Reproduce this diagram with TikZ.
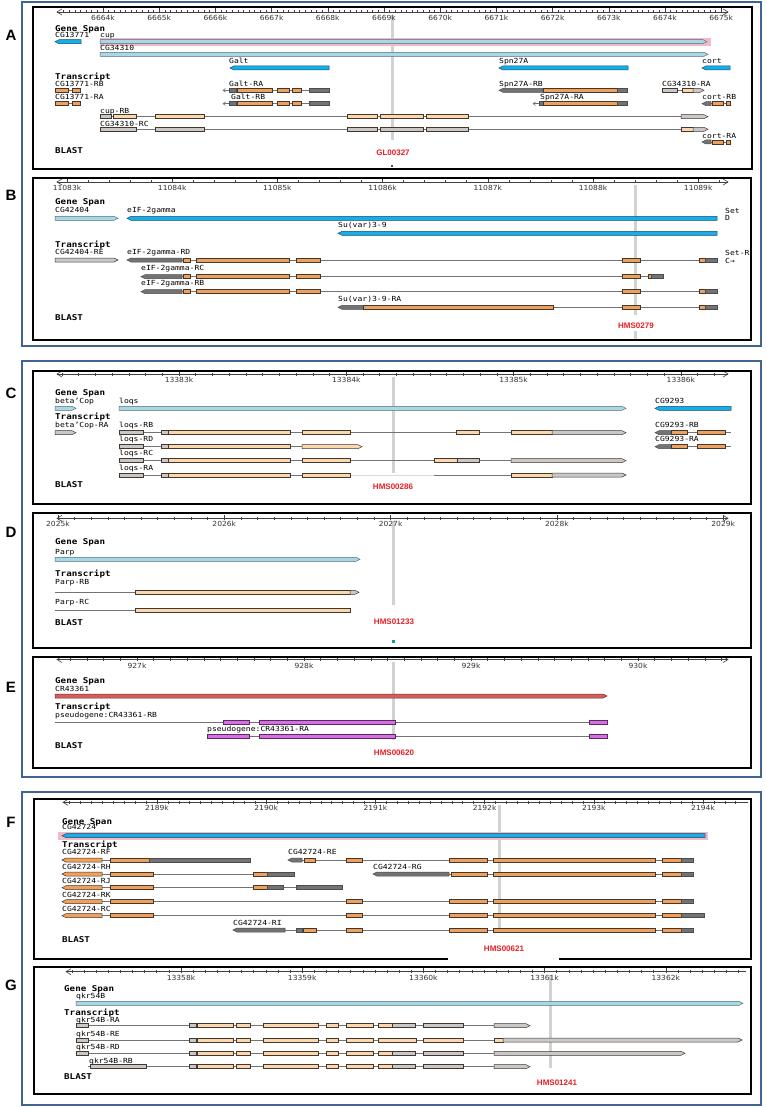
\documentclass[tikz,border=0pt]{standalone}
\usepackage{fontspec}
\newfontfamily\gbmono[FakeStretch=1.15]{DejaVu Sans Mono}
\newfontfamily\gbsans[FakeStretch=1.08]{DejaVu Sans}
\newfontfamily\gbarial{Liberation Sans}
\definecolor{fblue}{RGB}{65,100,150}
\definecolor{bbfill}{RGB}{20,175,230}
\definecolor{bbdraw}{RGB}{25,75,110}
\definecolor{lbfill}{RGB}{170,215,230}
\definecolor{lbdraw}{RGB}{80,110,125}
\definecolor{orfill}{RGB}{238,160,95}
\definecolor{exdraw}{RGB}{70,55,45}
\definecolor{tnfill}{RGB}{250,215,175}
\definecolor{gyfill}{RGB}{200,200,200}
\definecolor{dgfill}{RGB}{115,115,115}
\definecolor{pinkhl}{RGB}{245,185,198}
\definecolor{rsfill}{RGB}{210,95,95}
\definecolor{rsdraw}{RGB}{120,40,40}
\definecolor{mgfill}{RGB}{215,110,225}
\definecolor{mgdraw}{RGB}{90,40,100}
\definecolor{redlbl}{RGB}{235,30,35}
\definecolor{mkgrey}{RGB}{210,210,210}
\definecolor{introncol}{RGB}{115,115,115}
\definecolor{tealsq}{RGB}{30,150,160}
\tikzset{
  frameblue/.style={draw=fblue, line width=1.3pt},
  frameblack/.style={draw=black, line width=1.7pt},
  intron/.style={draw=introncol, line width=0.75pt},
  faintintron/.style={draw=black!15, line width=0.75pt},
  rulerline/.style={draw=black!75, line width=0.6pt},
  orx/.style={fill=orfill, draw=exdraw, line width=0.5pt},
  tnx/.style={fill=tnfill, draw=exdraw, line width=0.5pt},
  gyx/.style={fill=gyfill, draw=exdraw, line width=0.5pt},
  dgx/.style={fill=dgfill, draw=black!70, line width=0.5pt},
  bbx/.style={fill=bbfill, draw=bbdraw, line width=0.5pt},
  lbx/.style={fill=lbfill, draw=lbdraw, line width=0.5pt},
  rsx/.style={fill=rsfill, draw=rsdraw, line width=0.5pt},
  mgx/.style={fill=mgfill, draw=mgdraw, line width=0.5pt},
  marker/.style={draw=mkgrey, line width=3pt},
  lab/.style={anchor=west, inner sep=0pt, text height=5pt, text depth=0pt, font=\gbmono\fontsize{7}{8}\selectfont},
  hdr/.style={anchor=west, inner sep=0pt, text height=5.5pt, text depth=0pt, font=\gbmono\bfseries\fontsize{8}{9}\selectfont},
  rlab/.style={inner sep=0pt, text height=5pt, text depth=0pt, font=\gbsans\fontsize{7}{8}\selectfont, text=black!80},
  redlab/.style={inner sep=0pt, text height=5.5pt, text depth=0pt, font=\gbarial\bfseries\fontsize{8}{9}\selectfont, text=redlbl},
  plet/.style={inner sep=0pt, font=\gbarial\bfseries\fontsize{15}{16}\selectfont},
}
\newcommand\GBox[4]{\filldraw[#1] (#2,#4-2) rectangle (#3,#4+2);}
\newcommand\GArr[4]{\filldraw[#1] (#2,#4-2) -- (#3-4,#4-2) -- (#3,#4) -- (#3-4,#4+2) -- (#2,#4+2) -- cycle;}
\newcommand\GArl[4]{\filldraw[#1] (#2,#4) -- (#2+4,#4-2) -- (#3,#4-2) -- (#3,#4+2) -- (#2+4,#4+2) -- cycle;}
\newcommand\GIn[3]{\draw[intron] (#1,#3) -- (#2,#3);}
\newcommand\GTip[3]{\draw[intron] (#1,#3) -- (#2,#3); \draw[intron, line width=0.6pt] (#2+2.5,#3-1.8) -- (#2,#3) -- (#2+2.5,#3+1.8);}
\newcommand\GRul[8]{%
  \draw[rulerline] (#1,#3) -- (#2,#3);
  \foreach \i in {#7,...,#8}{\draw[rulerline] ({#4+\i*#5/#6},{#3-1.5}) -- ({#4+\i*#5/#6},{#3+1.5});}}
\newcommand\GMaj[5]{%
  \foreach \j [evaluate=\j as \mlab using {int(#5+\j)}] in {0,...,#3}{%
    \draw[rulerline] ({#1+\j*#2},{#4-3.5}) -- ({#1+\j*#2},{#4+1.5});
    \node[rlab] at ({#1+\j*#2},{#4+6}) {\mlab k};}}
\newcommand\GChl[2]{\draw[rulerline] (#1+5,#2-3) -- (#1,#2) -- (#1+5,#2+3);}
\newcommand\GChr[2]{\draw[rulerline] (#1-5,#2-3) -- (#1,#2) -- (#1-5,#2+3);}
\begin{document}
\begin{tikzpicture}[x=1pt,y=-1pt]
\useasboundingbox (0,0) rectangle (767,1107);
\fill[white] (0,0) rectangle (767,1107);
% outer frames
\draw[frameblue] (22,2) rectangle (761,346);
\draw[frameblue] (22,361) rectangle (761,777);
\draw[frameblue] (22,792) rectangle (761,1105);
% panel letters
\node[plet] (LA) at (11,35) {A};
\node[plet] (LB) at (11,195) {B};
\node[plet] (LC) at (11,393) {C};
\node[plet] (LD) at (11,532) {D};
\node[plet] (LE) at (11,687) {E};
\node[plet] (LF) at (11,822) {F};
\node[plet] (LG) at (11,985) {G};

%%%%%%%%%%%%%%%% PANEL A
\draw[marker] (392,15) -- (392,140);
\fill[black!70] (391,165) rectangle (393.2,167.2);
\GRul{57}{728}{12}{103}{56.2}{10}{-7}{110}
\GMaj{103}{56.2}{11}{12}{6664}
\GChl{57}{12}\GChr{728}{12}
\node[hdr] at (55,29) {Gene Span};
\node[lab] at (55,35) {CG13771};
\GArl{bbx}{55}{81}{41.7}
\fill[pinkhl] (100,37.8) rectangle (711,45.6);
\node[lab] at (100,35) {cup};
\GArr{lbx}{100}{707}{41.7}
\node[lab] at (100,48) {CG34310};
\GArr{lbx}{100}{708}{54.3}
\node[lab] at (229,61) {Galt};
\GArl{bbx}{230}{329}{68}
\node[lab] at (499,61) {Spn27A};
\GArl{bbx}{499}{628}{68}
\node[lab] at (702,61) {cort};
\GArl{bbx}{702}{730}{68}
\node[hdr] at (55,77) {Transcript};
\foreach \yy in {90.3,103.7}{
  \GIn{68}{72}{\yy}\GBox{orx}{55}{68}{\yy}\GBox{orx}{72}{80}{\yy}
  \GIn{236}{309}{\yy}\GTip{229}{223}{\yy}
  \GBox{dgx}{229}{236}{\yy}\GBox{orx}{237}{272}{\yy}\GBox{orx}{277}{289}{\yy}\GBox{orx}{292}{301}{\yy}\GBox{dgx}{309}{329}{\yy}
}
\node[lab] at (55,84) {CG13771-RB};
\node[lab] at (55,97) {CG13771-RA};
\node[lab] at (229,84) {Galt-RA};
\node[lab] at (231,97) {Galt-RB};
\node[lab] at (499,84) {Spn27A-RB};
\GArl{dgx}{499}{543}{90.3}\GBox{orx}{543}{617}{90.3}\GBox{dgx}{617}{627}{90.3}
\node[lab] at (540,97) {Spn27A-RA};
\GTip{539}{533}{103.7}
\GBox{dgx}{539}{543}{103.7}\GBox{orx}{543}{617}{103.7}\GBox{dgx}{617}{627}{103.7}
\node[lab] at (662,84) {CG34310-RA};
\GIn{677}{682}{90.3}\GBox{gyx}{662}{677}{90.3}\GBox{tnx}{682}{693}{90.3}\GArr{gyx}{693}{704}{90.3}
\node[lab] at (702,97) {cort-RB};
\node[lab] at (702,136) {cort-RA};
\foreach \yy in {103.7,142}{
  \GIn{711}{730}{\yy}\GArl{dgx}{702}{711}{\yy}\GBox{orx}{712}{723}{\yy}\GBox{orx}{726}{730}{\yy}}
\node[lab] at (100,111) {cup-RB};
\GIn{100}{681}{116.7}
\GBox{gyx}{100}{111}{116.7}\GBox{tnx}{113}{136}{116.7}\GBox{tnx}{155}{204}{116.7}
\GBox{tnx}{347}{377}{116.7}\GBox{tnx}{380}{423}{116.7}\GBox{tnx}{426}{468}{116.7}
\GArr{gyx}{681}{708}{116.7}
\node[lab] at (100,124) {CG34310-RC};
\GIn{100}{681}{129.3}
\GBox{gyx}{100}{136}{129.3}\GBox{gyx}{155}{204}{129.3}
\GBox{gyx}{347}{377}{129.3}\GBox{gyx}{380}{423}{129.3}\GBox{gyx}{426}{468}{129.3}
\GBox{tnx}{681}{693}{129.3}\GArr{gyx}{693}{708}{129.3}
\node[hdr] at (55,151) {BLAST};
\node[redlab] at (393,153) {GL00327};
\draw[frameblack] (33,7) rectangle (752,169);

%%%%%%%%%%%%%%%% PANEL B
\draw[marker] (635,185) -- (635,315);
\draw[marker] (635,331) -- (635,339);
\GRul{57}{728}{182}{67}{105.2}{5}{0}{31}
\GMaj{67}{105.2}{6}{182}{11083}
\GChl{57}{182}\GChr{728}{182}
\node[hdr] at (55,202) {Gene Span};
\node[lab] at (55,210) {CG42404};
\GArr{lbx}{55}{118}{218.3}
\node[lab] at (127,210) {eIF-2gamma};
\GArl{bbx}{127}{717}{218.3}
\node[lab] at (725,211) {Set};
\node[lab] at (725,218.5) {D};
\node[lab] at (338,225) {Su(var)3-9};
\GArl{bbx}{338}{717}{233.3}
\node[hdr] at (55,245) {Transcript};
\node[lab] at (55,252) {CG42404-RE};
\GArr{gyx}{55}{118}{260}
\node[lab] at (127,252) {eIF-2gamma-RD};
\node[lab] at (725,253) {Set-R};
\node[lab] at (725,261) {C→};
\GIn{182}{699}{260}
\GArl{dgx}{127}{182}{260}\GBox{orx}{183}{190}{260}\GBox{orx}{196}{289}{260}\GBox{orx}{296}{320}{260}
\GBox{orx}{622}{640}{260}\GBox{orx}{699}{705}{260}\GBox{dgx}{705}{717}{260}
\node[lab] at (141,268) {eIF-2gamma-RC};
\GIn{182}{648}{276.7}
\GArl{dgx}{141}{182}{276.7}\GBox{orx}{183}{190}{276.7}\GBox{orx}{196}{289}{276.7}\GBox{orx}{296}{320}{276.7}
\GBox{orx}{622}{640}{276.7}\GBox{orx}{648}{651}{276.7}\GBox{dgx}{651}{663}{276.7}
\node[lab] at (141,283) {eIF-2gamma-RB};
\GIn{182}{699}{291.7}
\GArl{dgx}{141}{182}{291.7}\GBox{orx}{183}{190}{291.7}\GBox{orx}{196}{289}{291.7}\GBox{orx}{296}{320}{291.7}
\GBox{orx}{622}{640}{291.7}\GBox{orx}{699}{705}{291.7}\GBox{dgx}{705}{717}{291.7}
\node[lab] at (338,299) {Su(var)3-9-RA};
\GIn{553}{699}{307.3}
\GArl{dgx}{338}{363}{307.3}\GBox{orx}{363}{553}{307.3}
\GBox{orx}{622}{640}{307.3}\GBox{orx}{699}{705}{307.3}\GBox{dgx}{705}{717}{307.3}
\node[hdr] at (55,318) {BLAST};
\node[redlab] at (636,326) {HMS0279};
\draw[frameblack] (33,178) rectangle (751,340);

%%%%%%%%%%%%%%%% PANEL C
\draw[marker] (393,377) -- (393,473);
\GRul{57}{728}{374}{179}{167.3}{10}{-7}{32}
\GMaj{179}{167.3}{3}{374}{13383}
\GChl{57}{374}\GChr{728}{374}
\node[hdr] at (55,393) {Gene Span};
\node[lab] at (55,401) {beta’Cop};
\GArr{lbx}{55}{76}{408.3}
\node[lab] at (119,401) {loqs};
\GArr{lbx}{119}{626}{408.3}
\node[lab] at (655,401) {CG9293};
\GArl{bbx}{655}{731}{408.3}
\node[hdr] at (55,417) {Transcript};
\node[lab] at (55,425) {beta’Cop-RA};
\GArr{gyx}{55}{76}{432.7}
\node[lab] at (119,425) {loqs-RB};
\GIn{143}{552}{432.7}
\GBox{gyx}{119}{143}{432.7}\GBox{gyx}{161}{168}{432.7}\GBox{tnx}{168}{290}{432.7}\GBox{tnx}{302}{350}{432.7}
\GBox{tnx}{456}{479}{432.7}\GBox{tnx}{511}{552}{432.7}\GArr{gyx}{552}{626}{432.7}
\node[lab] at (655,425) {CG9293-RB};
\node[lab] at (655,439) {CG9293-RA};
\foreach \yy in {432.7,446.7}{
  \GIn{671}{731}{\yy}\GArl{dgx}{655}{671}{\yy}\GBox{orx}{671}{687}{\yy}\GBox{orx}{697}{725}{\yy}}
\node[lab] at (119,439) {loqs-RD};
\GIn{143}{302}{446.7}
\GBox{gyx}{119}{143}{446.7}\GBox{gyx}{161}{168}{446.7}\GBox{tnx}{168}{290}{446.7}\GArr{tnx}{302}{362}{446.7}
\node[lab] at (119,453) {loqs-RC};
\GIn{143}{511}{460.7}
\GBox{gyx}{119}{143}{460.7}\GBox{gyx}{161}{168}{460.7}\GBox{tnx}{168}{290}{460.7}\GBox{tnx}{302}{350}{460.7}
\GBox{tnx}{434}{457}{460.7}\GBox{gyx}{457}{479}{460.7}\GArr{gyx}{511}{626}{460.7}
\node[lab] at (119,467.7) {loqs-RA};
\GIn{143}{350}{475}\draw[faintintron] (350,475) -- (434,475);\GIn{434}{511}{475}
\GBox{gyx}{119}{143}{475}\GBox{gyx}{161}{168}{475}\GBox{tnx}{168}{290}{475}\GBox{tnx}{302}{350}{475}
\GBox{tnx}{511}{552}{475}\GArr{gyx}{552}{626}{475}
\node[hdr] at (55,485) {BLAST};
\node[redlab] at (393,486.7) {HMS00286};
\draw[frameblack] (33,371) rectangle (751,504);

%%%%%%%%%%%%%%%% PANEL D
\draw[marker] (393,521) -- (393,605);
\fill[tealsq] (391.5,640) rectangle (394.5,643);
\GRul{57}{728}{518.3}{58}{166.3}{10}{0}{40}
\GMaj{58}{166.3}{4}{518.3}{2025}
\GChl{57}{518.3}\GChr{728}{518.3}
\node[hdr] at (55,541.7) {Gene Span};
\node[lab] at (55,551.7) {Parp};
\GArr{lbx}{55}{360}{559.3}
\node[hdr] at (55,574) {Transcript};
\node[lab] at (55,582.3) {Parp-RB};
\GIn{55}{135}{592.3}\GBox{tnx}{135}{350}{592.3}\GArr{gyx}{350}{359}{592.3}
\node[lab] at (55,602.3) {Parp-RC};
\GIn{55}{135}{610}\GBox{tnx}{135}{350}{610}
\node[hdr] at (55,622.3) {BLAST};
\node[redlab] at (394,621.7) {HMS01233};
\draw[frameblack] (33,513) rectangle (751,648);

%%%%%%%%%%%%%%%% PANEL E
\draw[marker] (393,662) -- (393,740);
\GRul{57}{728}{659.5}{137}{167}{10}{-4}{35}
\GMaj{137}{167}{3}{659.5}{927}
\GChl{57}{659.5}\GChr{728}{659.5}
\node[hdr] at (55,681) {Gene Span};
\node[lab] at (55,689) {CR43361};
\GArr{rsx}{55}{607}{696}
\node[hdr] at (55,706.7) {Transcript};
\node[lab] at (55,715) {pseudogene:CR43361-RB};
\GIn{55}{589}{722.3}
\GBox{mgx}{223}{249}{722.3}\GBox{mgx}{259}{395}{722.3}\GBox{mgx}{589}{607}{722.3}
\node[lab] at (207,729.3) {pseudogene:CR43361-RA};
\GIn{249}{589}{736}
\GBox{mgx}{207}{249}{736}\GBox{mgx}{259}{395}{736}\GBox{mgx}{589}{607}{736}
\node[hdr] at (55,745.7) {BLAST};
\node[redlab] at (394,753) {HMS00620};
\draw[frameblack] (33,657) rectangle (751,768);

%%%%%%%%%%%%%%%% PANEL F
\draw[marker] (499,805) -- (499,933);
\GRul{63}{748}{802.3}{157}{109.2}{10}{-8}{53}
\GMaj{157}{109.2}{5}{802.3}{2189}
\GChl{63}{802.3}
\node[hdr] at (62,821.7) {Gene Span};
\node[lab] at (62,827.3) {CG42724};
\fill[pinkhl] (58,831.8) rectangle (708,839.6);
\GArl{bbx}{62}{705}{835.7}
\node[hdr] at (62,845) {Transcript};
\node[lab] at (62,852.3) {CG42724-RF};
\node[lab] at (288,852.3) {CG42724-RE};
\GIn{102}{110}{860}\GIn{302}{662}{860}
\GArl{orx}{62}{102}{860}\GBox{orx}{110}{149}{860}\GBox{dgx}{149}{250}{860}
\GArl{dgx}{288}{302}{860}\GBox{orx}{304}{315}{860}\GBox{orx}{346}{362}{860}
\GBox{orx}{449}{487}{860}\GBox{orx}{493}{655}{860}\GBox{orx}{662}{681}{860}\GBox{dgx}{681}{693}{860}
\node[lab] at (62,866.7) {CG42724-RH};
\node[lab] at (373,866.7) {CG42724-RG};
\GIn{102}{253}{874}\GIn{449}{662}{874}
\GArl{orx}{62}{102}{874}\GBox{orx}{110}{153}{874}\GBox{orx}{253}{267}{874}\GBox{dgx}{267}{294}{874}
\GArl{dgx}{373}{449}{874}\GBox{orx}{451}{487}{874}\GBox{orx}{493}{655}{874}\GBox{orx}{662}{681}{874}\GBox{dgx}{681}{693}{874}
\node[lab] at (62,881) {CG42724-RJ};
\GIn{102}{296}{887.7}
\GArl{orx}{62}{102}{887.7}\GBox{orx}{110}{153}{887.7}\GBox{orx}{253}{267}{887.7}\GBox{dgx}{267}{283}{887.7}\GBox{dgx}{296}{342}{887.7}
\node[lab] at (62,895) {CG42724-RK};
\GIn{102}{662}{901.7}
\GArl{orx}{62}{102}{901.7}\GBox{orx}{110}{153}{901.7}\GBox{orx}{346}{362}{901.7}
\GBox{orx}{449}{487}{901.7}\GBox{orx}{493}{655}{901.7}\GBox{orx}{662}{681}{901.7}\GBox{dgx}{681}{693}{901.7}
\node[lab] at (62,909.3) {CG42724-RC};
\GIn{102}{662}{915.7}
\GArl{orx}{62}{102}{915.7}\GBox{orx}{110}{153}{915.7}\GBox{orx}{346}{362}{915.7}
\GBox{orx}{449}{487}{915.7}\GBox{orx}{493}{655}{915.7}\GBox{orx}{662}{681}{915.7}\GBox{dgx}{681}{704}{915.7}
\node[lab] at (233,923.3) {CG42724-RI};
\GIn{285}{662}{930}
\GArl{dgx}{233}{285}{930}\GBox{dgx}{296}{302}{930}\GBox{orx}{303}{316}{930}\GBox{orx}{346}{362}{930}
\GBox{orx}{449}{487}{930}\GBox{orx}{493}{655}{930}\GBox{orx}{662}{681}{930}\GBox{dgx}{681}{693}{930}
\node[hdr] at (62,939.3) {BLAST};
\node[redlab] at (504,948.3) {HMS00621};
\draw[frameblack] (34,799) rectangle (751,959);
\draw[white, line width=2pt] (448,959) -- (559,959);

%%%%%%%%%%%%%%%% PANEL G
\draw[marker] (550,975) -- (550,1068);
\GRul{66}{746}{971.7}{181}{121.2}{10}{-9}{46}
\GMaj{181}{121.2}{4}{971.7}{13358}
\GChl{66}{971.7}
\node[hdr] at (64,988.5) {Gene Span};
\node[lab] at (76,995.5) {qkr54B};
\GArr{lbx}{76}{743}{1003.3}
\node[hdr] at (64,1012.3) {Transcript};
\node[lab] at (76,1020) {qkr54B-RA};
\node[lab] at (76,1034) {qkr54B-RE};
\node[lab] at (76,1047) {qkr54B-RD};
\node[lab] at (89,1060.7) {qkr54B-RB};
\foreach \yy in {1025.7,1040,1053.3,1066.7}{
  \GIn{88}{494}{\yy}
  \GBox{gyx}{189}{196}{\yy}\GBox{tnx}{197}{233}{\yy}\GBox{tnx}{236}{250}{\yy}\GBox{tnx}{263}{318}{\yy}
  \GBox{tnx}{326}{338}{\yy}\GBox{tnx}{346}{373}{\yy}}
\foreach \yy in {1025.7,1053.3}{\GBox{gyx}{76}{88}{\yy}}
\foreach \yy in {1025.7,1053.3,1066.7}{
  \GBox{tnx}{378}{392}{\yy}\GBox{gyx}{392}{415}{\yy}\GBox{gyx}{423}{463}{\yy}}
\GArr{gyx}{494}{530}{1025.7}
\GBox{gyx}{76}{88}{1040}
\GBox{tnx}{378}{416}{1040}\GBox{tnx}{423}{463}{1040}\GBox{tnx}{494}{503}{1040}\GArr{gyx}{503}{742}{1040}
\GArr{gyx}{494}{685}{1053.3}
\GBox{gyx}{90}{146}{1066.7}\GArr{gyx}{494}{530}{1066.7}
\node[hdr] at (64,1076.7) {BLAST};
\node[redlab] at (557,1082.7) {HMS01241};
\draw[frameblack] (34,967) rectangle (751,1094);
\end{tikzpicture}
\end{document}
